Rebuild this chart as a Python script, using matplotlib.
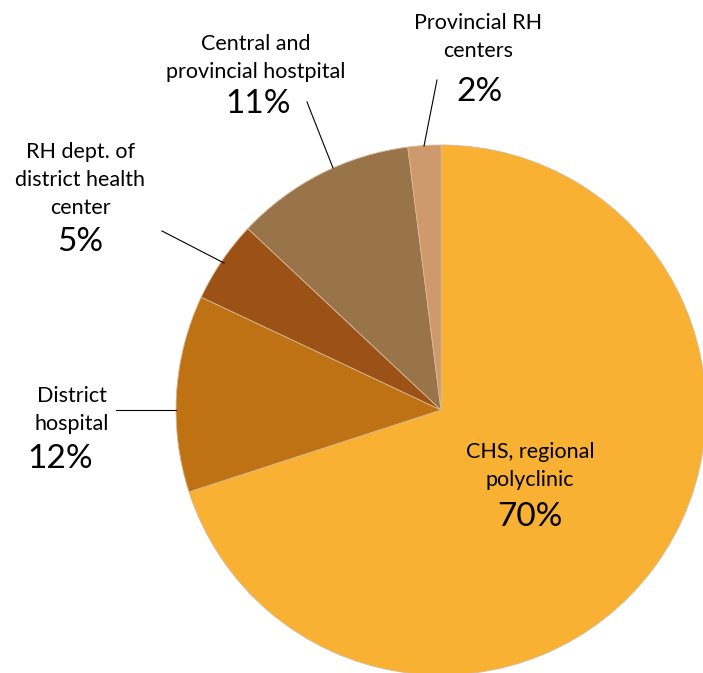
import matplotlib.pyplot as plt

labels = ["CHS, regional\npolyclinic", "District\nhospital", "RH dept. of\ndistrict health\ncenter",
          "Central and\nprovincial hostpital", "Provincial RH\ncenters"]
shares = [70, 12, 5, 11, 2]
colors = ["#F8B133", "#BF7214", "#9C5216", "#99734A", "#CE9A6D"]

W, H = 703, 673
CX, CY, R = 441, 410, 265


def px(x, y):
    # pixel position in the picture -> data coords of the pie
    return (x - CX) / R, (CY - y) / R


fig = plt.figure(figsize=(W / 100, H / 100), dpi=100)
ax = fig.add_axes([0, 0, 1, 1])
ax.pie(shares, colors=colors, startangle=90, counterclock=False, radius=1,
       wedgeprops=dict(linewidth=0.6, edgecolor="#d9b890"))
ax.set_xlim(-CX / R, (W - CX) / R)
ax.set_ylim(-(H - CY) / R, CY / R)
ax.set_aspect("equal")
ax.axis("off")

fam = ["Lato", "DejaVu Sans"]

# label text, percent text, leader line (pixel positions)
place = [
    ((530, 466), (530, 517), None),
    ((72, 410), (60, 459), ((116, 410), (176, 410))),
    ((80, 180), (80, 242), ((162, 231), (224, 263))),
    ((256, 58), (258, 104), ((307, 102), (333, 168))),
    ((478, 37), (480, 92), ((437, 80), (424, 146))),
]

for lab, val, (tp, pp, lead) in zip(labels, shares, place):
    ax.text(*px(*tp), lab, ha="center", va="center", fontsize=15.5, family=fam,
            linespacing=1.5)
    ax.text(*px(*pp), f"{val}%", ha="center", va="center", fontsize=24, family=fam)
    if lead:
        (x0, y0), (x1, y1) = lead
        a, b = px(x0, y0)
        c, d = px(x1, y1)
        ax.plot([a, c], [b, d], color="black", linewidth=0.8)

fig.savefig("out.png", dpi=100)
